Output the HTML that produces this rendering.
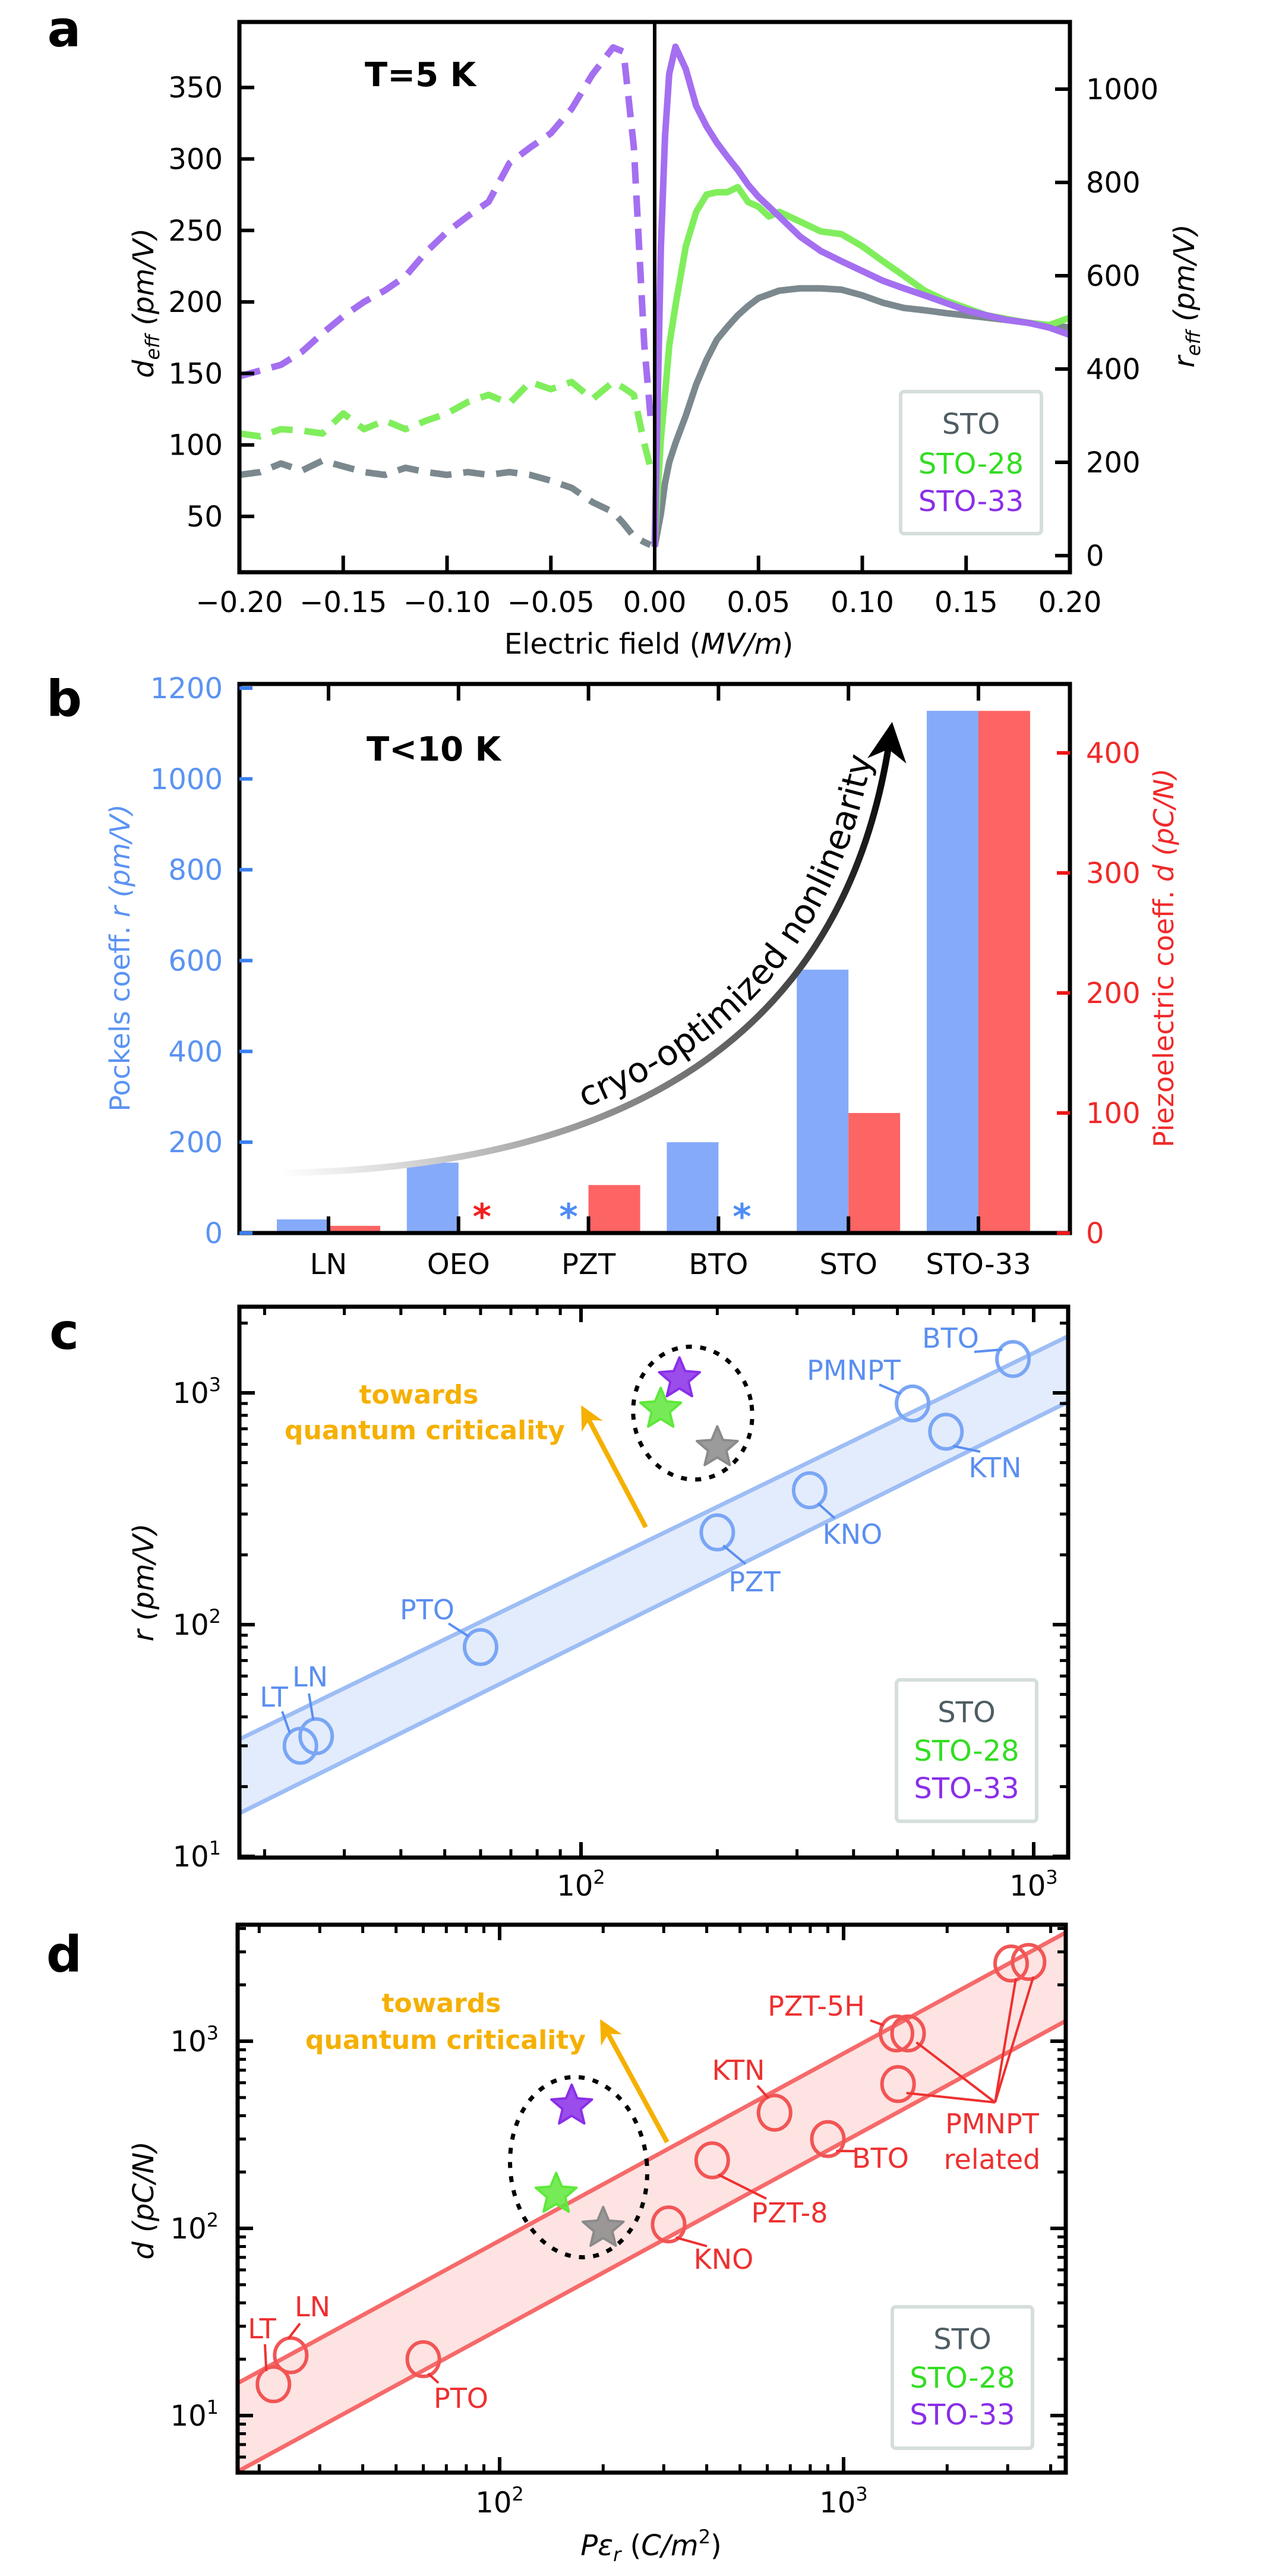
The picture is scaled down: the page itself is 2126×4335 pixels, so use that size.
<!DOCTYPE html>
<html><head><meta charset="utf-8"><style>
html,body{margin:0;padding:0;background:#fff}
svg{display:block}
text{font-family:"DejaVu Sans","Liberation Sans",sans-serif}
</style></head><body>
<svg id="fig" xmlns="http://www.w3.org/2000/svg" width="2126" height="4335" viewBox="0 0 2126 4335">
<defs>
<linearGradient id="curveGrad" gradientUnits="userSpaceOnUse" x1="470" y1="1970" x2="1500" y2="1230">
<stop offset="0" stop-color="#fff"/><stop offset="0.35" stop-color="#999"/><stop offset="1" stop-color="#000"/></linearGradient>
<marker id="arrBlack" viewBox="0 0 10 10" refX="8" refY="5" markerWidth="6" markerHeight="6" orient="auto"><path d="M0,0 L10,5 L0,10 L3,5 z" fill="#000"/></marker>
<marker id="arrOrange" viewBox="0 0 10 10" refX="8" refY="5" markerWidth="5" markerHeight="5" orient="auto"><path d="M0,0 L10,5 L0,10 L3,5 z" fill="#f5b000"/></marker>
<clipPath id="clipA"><rect x="403" y="37" width="1398" height="926"/></clipPath>
<clipPath id="clipC"><rect x="403" y="2199" width="1395" height="927"/></clipPath>
<clipPath id="clipD"><rect x="400" y="3239" width="1394" height="922"/></clipPath>
</defs>
<g id="gA"></g>
<g id="gB"></g>
<g id="gC"></g>
<g id="gD"></g>
</svg>
<script>
// ---------- Panel a data ----------
const aFieldNeg = [-0.2,-0.19,-0.18,-0.17,-0.16,-0.15,-0.14,-0.13,-0.12,-0.11,-0.10,-0.09,-0.08,-0.07,-0.06,-0.05,-0.04,-0.03,-0.02,-0.015,-0.01,-0.005,-0.002];
const aPurpleNeg = [148,152,156,165,178,190,200,208,218,235,249,260,270,297,308,318,335,359,378,375,308,170,120];
const aGreenNeg = [108,106,111,110,108,122,111,117,111,117,122,130,135,129,144,139,144,132,144,140,135,101,84];
const aGrayNeg = [79,81,87,82,89,85,81,79,84,81,79,81,79,81,79,75,70,60,53,45,36,32,30];
const aFieldPos = [0,0.003,0.005,0.007,0.01,0.015,0.02,0.025,0.03,0.035,0.04,0.045,0.05,0.055,0.06,0.07,0.08,0.09,0.10,0.11,0.12,0.13,0.14,0.15,0.16,0.17,0.18,0.19,0.2];
const aPurplePos = [19,663,900,1033,1091,1043,964,920,885,855,827,795,769,748,727,684,653,631,610,589,573,558,542,526,515,505,499,489,473];
const aGreenPos = [30,250,346,450,536,663,737,774,779,779,790,758,748,727,737,716,695,689,663,631,600,568,547,531,515,507,499,494,510];
const aGrayPos = [19,90,156,200,241,300,367,420,463,490,515,535,552,560,568,573,573,570,558,542,531,526,520,515,510,505,499,494,489];
const aXTicks = [-0.2,-0.15,-0.1,-0.05,0,0.05,0.1,0.15,0.2];
const aXTickLabels = ["\u22120.20","\u22120.15","\u22120.10","\u22120.05","0.00","0.05","0.10","0.15","0.20"];
const aLeftTicks = [50,100,150,200,250,300,350];
const aRightTicks = [0,200,400,600,800,1000];
// ---------- Panel b data ----------
const bCategories = ["LN","OEO","PZT","BTO","STO","STO-33"];
const bPockels = [30,155,null,200,580,1150];
const bPiezo = [6,null,40,null,100,435];
const bLeftTicks = [0,200,400,600,800,1000,1200];
const bRightTicks = [0,100,200,300,400];
// ---------- Panel c data ----------
const cNames = ["LT","LN","PTO","PZT","KNO","PMNPT","KTN","BTO"];
const cX = [24,26,60,200,320,540,640,900];
const cR = [30,33,80,250,380,900,680,1400];
const cStarNames = ["STO-33","STO-28","STO"];
const cStarX = [165,150,200];
const cStarR = [1150,850,580];
// ---------- Panel d data ----------
const dNames = ["LT","LN","PTO","KNO","PZT-8","KTN","BTO","PZT-5H a","PZT-5H b","PMNPT 1","PMNPT 2","PMNPT 3"];
const dX = [22,24.7,60,310,415,630,900,1425,1540,1440,3070,3450];
const dD = [14.7,21,20,105,231,415,300,1100,1100,590,2600,2650];
const dStarNames = ["STO-33","STO-28","STO"];
const dStarX = [162,146,200];
const dStarD = [450,152,100];

const NS = "http://www.w3.org/2000/svg";
function mk(parent, tag, attrs, txt){
  const e = document.createElementNS(NS, tag);
  for (const k in attrs) e.setAttribute(k, attrs[k]);
  if (txt !== undefined) e.textContent = txt;
  parent.appendChild(e);
  return e;
}
const L10 = Math.log10;
const gA = document.getElementById('gA'), gB = document.getElementById('gB'), gC = document.getElementById('gC'), gD = document.getElementById('gD');
const fig = document.getElementById('fig');

function panelLetter(letter, x, y){
  const t = mk(fig,'text',{x:x,y:y,'font-size':84,'font-weight':'bold','font-family':'Liberation Sans, sans-serif','text-anchor':'middle'},letter);
  
  
}
panelLetter('a',108,78); panelLetter('b',108,1205); panelLetter('c',108,2270); panelLetter('d',108,3318);

// ================= Panel a =================
const xa = E => 403 + (E+0.2)/0.4*1398;
const ydA = d => 869 - (d-50)*2.406;
const yrA = r => 935 - r*0.785;
function polyPath(xs, ys, fx, fy){ return xs.map((v,i)=>(i?'L':'M')+fx(v).toFixed(1)+','+fy(ys[i]).toFixed(1)).join(''); }
const clipAg = mk(gA,'g',{'clip-path':'url(#clipA)'});


const aSeries = [
  ['sto-33',aPurpleNeg,aPurplePos,'#a46ff0'],
  ['sto-28',aGreenNeg,aGreenPos,'#80ee5c'],
  ['sto',aGrayNeg,aGrayPos,'#7b898e']];
aSeries.slice().reverse().forEach(s=>{
  const p1 = mk(clipAg,'path',{d:polyPath(aFieldNeg,s[1],xa,ydA),fill:'none',stroke:s[3],'stroke-width':11,'stroke-dasharray':'36,20','stroke-linejoin':'round'});
  
  
  const p2 = mk(clipAg,'path',{d:polyPath(aFieldPos,s[2],xa,yrA),fill:'none',stroke:s[3],'stroke-width':11,'stroke-linejoin':'round'});
  
  
});
const zl = mk(gA,'line',{x1:xa(0),x2:xa(0),y1:37,y2:963,stroke:'#000','stroke-width':6});


const frA = mk(gA,'rect',{x:403,y:37,width:1398,height:926,fill:'none',stroke:'#000','stroke-width':7});


aXTicks.forEach((v,i)=>{
  const tk = mk(gA,'line',{x1:xa(v),x2:xa(v),y1:963,y2:935,stroke:'#000','stroke-width':6});
  
  
  const tl = mk(gA,'text',{x:xa(v),y:1030,'font-size':48,'text-anchor':'middle'},aXTickLabels[i]);
  
  
});
aLeftTicks.forEach(v=>{
  const tk = mk(gA,'line',{x1:403,x2:428,y1:ydA(v),y2:ydA(v),stroke:'#000','stroke-width':6});
  
  
  const tl = mk(gA,'text',{x:375,y:ydA(v)+17,'font-size':48,'text-anchor':'end'},v);
  
  
});
aRightTicks.forEach(v=>{
  const tk = mk(gA,'line',{x1:1776,x2:1801,y1:yrA(v),y2:yrA(v),stroke:'#000','stroke-width':6});
  
  
  const tl = mk(gA,'text',{x:1828,y:yrA(v)+17,'font-size':48,'text-anchor':'start'},v);
  
  
});
let t;
t = mk(gA,'text',{x:614,y:145,'font-size':56,'font-weight':'bold'},'T=5 K');


t = mk(gA,'text',{x:1092,y:1100,'font-size':48,'text-anchor':'middle'});
t.innerHTML = 'Electric field (<tspan font-style="italic">MV/m</tspan>)';


t = mk(gA,'text',{x:0,y:0,'font-size':48,'text-anchor':'middle',transform:'translate(258,510) rotate(-90)','font-style':'italic'});
t.innerHTML = 'd<tspan font-size="32" dy="10">eff</tspan><tspan dy="-10"> (pm/V)</tspan>';


t = mk(gA,'text',{x:0,y:0,'font-size':48,'text-anchor':'middle',transform:'translate(2010,498) rotate(-90)','font-style':'italic'});
t.innerHTML = 'r<tspan font-size="32" dy="10">eff</tspan><tspan dy="-10"> (pm/V)</tspan>';


function legend(g, x, y, w, h, ys, prefix){
  const box = mk(g,'rect',{x:x,y:y,width:w,height:h,rx:6,fill:'#fff',stroke:'#d5dedb','stroke-width':6});
  
  
  const items = [['STO','#4f5d63'],['STO-28','#33dd22'],['STO-33','#8a2ee8']];
  items.forEach((it,i)=>{
    const e = mk(g,'text',{x:x+w/2,y:ys[i],'font-size':48,'text-anchor':'middle',fill:it[1]},it[0]);
    
    
  });
}
legend(gA,1516,659,237,239,[730,797,860],'a');

// ================= Panel b =================
const bTop=1151,bBot=2075,bL=403,bR=1801;
const xb = i => 553 + i*218.8;
const yBl = v => bBot - v*0.7642;
const yBr = v => bBot - v*2.02;
const bw = 87;
// asterisk colour for missing values: OEO red, PZT blue, BTO blue
const bMissingColor = ['#f02020','#f02020','#4d8cf5','#4d8cf5','#f02020','#f02020'];
bCategories.forEach((c,i)=>{
  if (bPockels[i]!==null){
    const r = mk(gB,'rect',{x:xb(i)-bw,y:yBl(bPockels[i]),width:bw,height:bBot-yBl(bPockels[i]),fill:'#86aafa'});
    
    
  } else {
    const s = mk(gB,'text',{x:xb(i)-bw/2+10,y:2068,'font-size':60,'font-weight':'bold','text-anchor':'middle',fill:bMissingColor[i]},'*');
    
    
  }
  if (bPiezo[i]!==null){
    const r = mk(gB,'rect',{x:xb(i),y:yBr(bPiezo[i]),width:bw,height:bBot-yBr(bPiezo[i]),fill:'#fd6464'});
    
    
  } else {
    const s = mk(gB,'text',{x:xb(i)+bw/2-4,y:2068,'font-size':60,'font-weight':'bold','text-anchor':'middle',fill:bMissingColor[i]},'*');
    
    
  }
  const tk = mk(gB,'line',{x1:xb(i),x2:xb(i),y1:bBot,y2:bBot-28,stroke:'#000','stroke-width':6});
  
  
  const tk2 = mk(gB,'line',{x1:xb(i),x2:xb(i),y1:bTop,y2:bTop+28,stroke:'#000','stroke-width':6});
  
  
  const tl = mk(gB,'text',{x:xb(i),y:2144,'font-size':48,'text-anchor':'middle'},c);
  
  
});
const frB = mk(gB,'rect',{x:bL,y:bTop,width:bR-bL,height:bBot-bTop,fill:'none',stroke:'#000','stroke-width':7});


bLeftTicks.forEach(v=>{
  const tk = mk(gB,'line',{x1:bL,x2:bL+22,y1:yBl(v),y2:yBl(v),stroke:'#3b7ff0','stroke-width':6});
  
  
  const tl = mk(gB,'text',{x:375,y:yBl(v)+17,'font-size':48,'text-anchor':'end',fill:'#5b93f2'},v);
  
  
});
bRightTicks.forEach(v=>{
  const tk = mk(gB,'line',{x1:bR-22,x2:bR,y1:yBr(v),y2:yBr(v),stroke:'#f01515','stroke-width':6});
  
  
  const tl = mk(gB,'text',{x:1828,y:yBr(v)+17,'font-size':48,'text-anchor':'start',fill:'#f02a2a'},v);
  
  
});
t = mk(gB,'text',{x:617,y:1280,'font-size':56,'font-weight':'bold'},'T<10 K');


t = mk(gB,'text',{x:0,y:0,'font-size':46,'text-anchor':'middle',fill:'#5b93f2',transform:'translate(218,1612) rotate(-90)'});
t.innerHTML = 'Pockels coeff. <tspan font-style="italic">r (pm/V)</tspan>';


t = mk(gB,'text',{x:0,y:0,'font-size':46,'text-anchor':'middle',fill:'#f02a2a',transform:'translate(1975,1612) rotate(-90)'});
t.innerHTML = 'Piezoelectric coeff. <tspan font-style="italic">d (pC/N)</tspan>';


const curveD = 'M472,1974 Q1400,1960 1500,1228';
const cv = mk(gB,'path',{d:curveD,fill:'none',stroke:'url(#curveGrad)','stroke-width':11,'marker-end':'url(#arrBlack)'});


mk(gB,'path',{id:'txtPath',d:'M455,1955 Q1380,1940 1478,1212',fill:'none',stroke:'none'});
t = mk(gB,'text',{'font-size':58,'text-anchor':'middle'});
t.innerHTML = '<textPath href="#txtPath" startOffset="67%">cryo-optimized nonlinearity</textPath>';



// ================= log panels helpers =================
function star(g, cx, cy, R, fill, name){
  let pts=[];
  for(let k=0;k<10;k++){const a=-Math.PI/2+k*Math.PI/5; const r=k%2?R*0.45:R; pts.push((cx+r*Math.cos(a)).toFixed(1)+','+(cy+r*Math.sin(a)).toFixed(1));}
  const p = mk(g,'polygon',{points:pts.join(' '),fill:fill,stroke:fill,'stroke-width':4,'stroke-linejoin':'round','fill-opacity':0.85});
  
  
}
function logTicks(g, fx, fy, x0,x1,y0,y1, xmin,xmax,ymin,ymax, panel){
  for(let dec=0;dec<5;dec++){
    for(let m=1;m<10;m++){
      const v = m*Math.pow(10,dec);
      const len = m===1?26:14, w = m===1?6:5;
      if (v>=xmin && v<=xmax){
        const x=fx(v);
        const a=mk(g,'line',{x1:x,x2:x,y1:y1,y2:y1-len,stroke:'#000','stroke-width':w});
        
        
        const b=mk(g,'line',{x1:x,x2:x,y1:y0,y2:y0+len,stroke:'#000','stroke-width':w});
        
        
      }
      if (v>=ymin && v<=ymax){
        const y=fy(v);
        const a=mk(g,'line',{x1:x0,x2:x0+len,y1:y,y2:y,stroke:'#000','stroke-width':w});
        
        
        const b=mk(g,'line',{x1:x1,x2:x1-len,y1:y,y2:y,stroke:'#000','stroke-width':w});
        
        
      }
    }
  }
}
function supLabel(g, x, y, exp, anchor, panel, axis){
  const e = mk(g,'text',{x:x,y:y,'font-size':48,'text-anchor':anchor});
  e.innerHTML = '10<tspan font-size="32" dy="-20">'+exp+'</tspan>';
  
  
}
function labelWithLeader(g, text, lx, ly, x1,y1,x2,y2, color, anchor, panel){
  const l = mk(g,'line',{x1:x1,y1:y1,x2:x2,y2:y2,stroke:color,'stroke-width':4});
  
  
  const e = mk(g,'text',{x:lx,y:ly,'font-size':46,'text-anchor':anchor,fill:color},text);
  
  
}

// ================= Panel c =================
const xc = v => 978 + (L10(v)-2)*762;
const yc = v => 2734 - (L10(v)-2)*390;
const cg = mk(gC,'g',{'clip-path':'url(#clipC)'});


const cBandUp = x => 2.1*Math.pow(x,0.95), cBandLo = x => 0.95*Math.pow(x,0.97);
const cxs=[10,3000];
let bandPts = cxs.map(x=>xc(x)+','+yc(cBandUp(x))).concat(cxs.slice().reverse().map(x=>xc(x)+','+yc(cBandLo(x))));
let band = mk(cg,'polygon',{points:bandPts.join(' '),fill:'#dce7fb',opacity:0.8});


[cBandUp,cBandLo].forEach((f,i)=>{
  const l = mk(cg,'line',{x1:xc(10),y1:yc(f(10)),x2:xc(3000),y2:yc(f(3000)),stroke:'#9dbdf5','stroke-width':7});
  
  
});
cNames.forEach((n,i)=>{
  const c = mk(cg,'ellipse',{cx:xc(cX[i]),cy:yc(cR[i]),rx:27,ry:29,fill:'none',stroke:'#7aa6f5','stroke-width':6});
  
  
});
const cLab = {
 LT:[461,2872,'middle',-18,-22,475,2880],
 LN:[522,2838,'middle',-5,-28,520,2850],
 PTO:[719,2725,'middle',-20,-18,755,2732],
 PZT:[1270,2678,'middle',10,22,1255,2632],
 KNO:[1435,2598,'middle',14,22,1405,2555],
 PMNPT:[1437,2322,'middle',-20,-16,1480,2330],
 KTN:[1675,2486,'middle',12,24,1650,2443],
 BTO:[1600,2268,'middle',-18,-16,1640,2275]};
cNames.forEach((n,i)=>{
  const o=cLab[n]; const px=xc(cX[i]), py=yc(cR[i]);
  labelWithLeader(gC,n,o[0],o[1],px+o[3],py+o[4],o[5],o[6],'#5b8ff0',o[2],'c');
});
const ell = mk(gC,'ellipse',{cx:1166,cy:2378,rx:100,ry:112,fill:'none',stroke:'#000','stroke-width':7,'stroke-dasharray':'10,14',transform:'rotate(-8 1166 2378)'});


const starCols = {'STO-33':'#8a2ee8','STO-28':'#5ee83a','STO':'#8a8a8a'};
cStarNames.forEach((n,i)=> star(gC, xc(cStarX[i]), yc(cStarR[i]), 36, starCols[n], 'c-'+n.toLowerCase()));
const arrC = mk(gC,'line',{x1:1087,y1:2570,x2:982,y2:2372,stroke:'#f5b000','stroke-width':8,'marker-end':'url(#arrOrange)'});


t = mk(gC,'text',{x:705,y:2362,'font-size':44,'font-weight':'bold','text-anchor':'middle',fill:'#f5b000'},'towards');


t = mk(gC,'text',{x:715,y:2422,'font-size':44,'font-weight':'bold','text-anchor':'middle',fill:'#f5b000'},'quantum criticality');


const frC = mk(gC,'rect',{x:403,y:2199,width:1395,height:927,fill:'none',stroke:'#000','stroke-width':7});


logTicks(gC,xc,yc,403,1798,2199,3126,17.6,1190,10,2344,'c');
supLabel(gC,xc(100),3190,'2','middle','c','x');
supLabel(gC,xc(1000),3190,'3','middle','c','x');
supLabel(gC,372,yc(10)+17,'1','end','c','y');
supLabel(gC,372,yc(100)+17,'2','end','c','y');
supLabel(gC,372,yc(1000)+17,'3','end','c','y');
t = mk(gC,'text',{x:0,y:0,'font-size':48,'text-anchor':'middle','font-style':'italic',transform:'translate(258,2663) rotate(-90)'},'r (pm/V)');


legend(gC,1509,2827,236,238,[2898,2963,3026],'c');

// ================= Panel d =================
const xd = v => 841 + (L10(v)-2)*579;
const yd = v => 3750 - (L10(v)-2)*315;
const dg = mk(gD,'g',{'clip-path':'url(#clipD)'});


const dBandUp = x => 0.86*x, dBandLo = x => 0.29*x;
const dxs=[10,10000];
bandPts = dxs.map(x=>xd(x)+','+yd(dBandUp(x))).concat(dxs.slice().reverse().map(x=>xd(x)+','+yd(dBandLo(x))));
band = mk(dg,'polygon',{points:bandPts.join(' '),fill:'#fde0df',opacity:0.9});


[dBandUp,dBandLo].forEach((f,i)=>{
  const l = mk(dg,'line',{x1:xd(10),y1:yd(f(10)),x2:xd(10000),y2:yd(f(10000)),stroke:'#f66a6a','stroke-width':7});
  
  
});
dNames.forEach((n,i)=>{
  const c = mk(dg,'ellipse',{cx:xd(dX[i]),cy:yd(dD[i]),rx:27,ry:29,fill:'none',stroke:'#f25555','stroke-width':6});
  
  
});
const dLab = {
 LT:[441,3935,'middle',-12,-22,446,3945], LN:[526,3898,'middle',-4,-28,505,3910],
 PTO:[776,4052,'middle',8,24,738,4010], KNO:[1218,3818,'middle',12,22,1190,3780],
 'PZT-8':[1329,3740,'middle',10,24,1290,3700], KTN:[1243,3500,'middle',-10,-24,1275,3510],
 BTO:[1482,3648,'middle',14,20,1440,3620], 'PZT-5H a':[1374,3392,'middle',-22,-14,1465,3400]};
dNames.forEach((n,i)=>{
  const o=dLab[n]; if(!o) return; const px=xd(dX[i]), py=yd(dD[i]);
  labelWithLeader(gD,n==='PZT-5H a'?'PZT-5H':n,o[0],o[1],px+o[3],py+o[4],o[5],o[6],'#ee3030',o[2],'d');
});
[8,9,10,11].forEach(i=>{
  const l = mk(gD,'line',{x1:1675,y1:3538,x2:xd(dX[i])+(i>=10?8:14),y2:yd(dD[i])+(i>=10?25:15),stroke:'#ee3030','stroke-width':4});
  
  
});
t = mk(gD,'text',{x:1670,y:3590,'font-size':46,'text-anchor':'middle',fill:'#ee3030'},'PMNPT');


t = mk(gD,'text',{x:1670,y:3650,'font-size':46,'text-anchor':'middle',fill:'#ee3030'},'related');


const ell2 = mk(gD,'ellipse',{cx:974,cy:3647,rx:115,ry:152,fill:'none',stroke:'#000','stroke-width':7,'stroke-dasharray':'10,14',transform:'rotate(-6 974 3647)'});


dStarNames.forEach((n,i)=> star(gD, xd(dStarX[i]), yd(dStarD[i]), 36, starCols[n], 'd-'+n.toLowerCase()));
const arrD = mk(gD,'line',{x1:1123,y1:3605,x2:1014,y2:3405,stroke:'#f5b000','stroke-width':8,'marker-end':'url(#arrOrange)'});


t = mk(gD,'text',{x:743,y:3386,'font-size':44,'font-weight':'bold','text-anchor':'middle',fill:'#f5b000'},'towards');


t = mk(gD,'text',{x:750,y:3448,'font-size':44,'font-weight':'bold','text-anchor':'middle',fill:'#f5b000'},'quantum criticality');


const frD = mk(gD,'rect',{x:400,y:3239,width:1394,height:922,fill:'none',stroke:'#000','stroke-width':7});


logTicks(gD,xd,yd,400,1794,3239,4161,17.3,4420,4.9,4170,'d');
supLabel(gD,xd(100),4228,'2','middle','d','x');
supLabel(gD,xd(1000),4228,'3','middle','d','x');
supLabel(gD,368,yd(10)+17,'1','end','d','y');
supLabel(gD,368,yd(100)+17,'2','end','d','y');
supLabel(gD,368,yd(1000)+17,'3','end','d','y');
t = mk(gD,'text',{x:0,y:0,'font-size':48,'text-anchor':'middle','font-style':'italic',transform:'translate(258,3703) rotate(-90)'},'d (pC/N)');


t = mk(gD,'text',{x:1096,y:4300,'font-size':48,'text-anchor':'middle'});
t.innerHTML = '<tspan font-style="italic">P\u03B5<tspan font-size="32" dy="10">r</tspan></tspan><tspan dy="-10"> (</tspan><tspan font-style="italic">C/m</tspan><tspan font-size="32" dy="-20">2</tspan><tspan dy="20">)</tspan>';


legend(gD,1502,3882,236,238,[3953,4018,4080],'d');
</script>
</body></html>
